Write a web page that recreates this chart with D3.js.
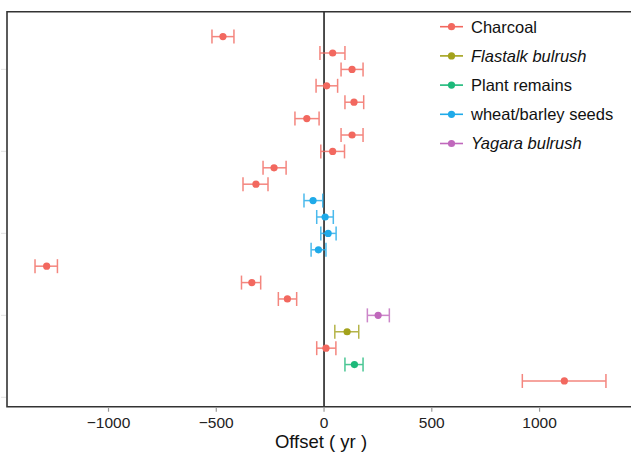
<!DOCTYPE html>
<head>
    <meta charset="utf-8">
    <script src="https://d3js.org/d3.v7.min.js"></script>
    <style>
        body { margin:0; background:#fff; }
        svg { display:block; font-family: Arial, "Liberation Sans", sans-serif; }
    </style>
</head>

<body>
<div id="chart"></div>
<script>

    // ******************** Data ************************
    // one entry per row, listed from top to bottom
    var material = ["Charcoal", "Charcoal", "Charcoal", "Charcoal", "Charcoal", "Charcoal",
        "Charcoal", "Charcoal", "Charcoal", "Charcoal",
        "wheat/barley seeds", "wheat/barley seeds", "wheat/barley seeds", "wheat/barley seeds",
        "Charcoal", "Charcoal", "Charcoal",
        "Yagara bulrush", "Flastalk bulrush", "Charcoal", "Plant remains", "Charcoal"];
    var offset = [-469, 40, 130, 12, 139, -80, 130, 40, -232, -316,
        -51, 5, 19, -26,
        -1287, -335, -170,
        251, 107, 9, 141, 1115];
    var lower = [-520, -19, 79, -37, 97, -135, 79, -15, -283, -376,
        -93, -34, -15, -60,
        -1341, -383, -212,
        201, 50, -34, 97, 920];
    var upper = [-418, 97, 181, 63, 184, -23, 181, 95, -176, -260,
        -6, 43, 56, 9,
        -1237, -294, -127,
        303, 161, 55, 181, 1308];

    var categories = ["Charcoal", "Flastalk bulrush", "Plant remains", "wheat/barley seeds", "Yagara bulrush"];
    var italicCats = ["Flastalk bulrush", "Yagara bulrush"];
    var catColors = ["#F2685F", "#A3A21C", "#1DB97A", "#1FAAE9", "#C068BC"];
    var xTicks = [-1000, -500, 0, 500, 1000];
    var yTicks = [0, 5, 10, 15, 20];

    // ******************** Layout ************************
    // (window.top is read-only, so the panel edges get their own names)
    var width = 631, height = 455;
    var pLeft = 7, pTop = 11.7, pBottom = 406.7, pRight = 640;

    var x = d3.scaleLinear().domain([-1471, 1466]).range([pLeft, pRight]);
    var y = d3.scaleLinear().domain([-0.57, 23.52]).range([pBottom, pTop]);
    var color = d3.scaleOrdinal().domain(categories).range(catColors);

    var rows = offset.map(function (d, i) {
        return {pos: offset.length - i, val: d, lo: lower[i], hi: upper[i], cat: material[i]};
    });

    var svg = d3.select("#chart").append("svg")
        .attr("width", width)
        .attr("height", height);

    // Zero line
    svg.append("line")
        .attr("x1", x(0)).attr("x2", x(0))
        .attr("y1", pTop).attr("y2", pBottom)
        .attr("stroke", "#222")
        .attr("stroke-width", 1.6);

    // Error bars
    var gErr = svg.append("g").attr("stroke-width", 1.5).attr("opacity", 0.8);
    rows.forEach(function (d) {
        var g = gErr.append("g").attr("stroke", color(d.cat));
        g.append("line")
            .attr("x1", x(d.lo)).attr("x2", x(d.hi))
            .attr("y1", y(d.pos)).attr("y2", y(d.pos));
        [d.lo, d.hi].forEach(function (v) {
            g.append("line")
                .attr("x1", x(v)).attr("x2", x(v))
                .attr("y1", y(d.pos) - 7).attr("y2", y(d.pos) + 7);
        });
    });

    // Points
    svg.append("g").selectAll("circle")
        .data(rows)
        .enter()
        .append("circle")
        .attr("cx", function (d) { return x(d.val); })
        .attr("cy", function (d) { return y(d.pos); })
        .attr("r", 3.6)
        .attr("fill", function (d) { return color(d.cat); });

    // Panel border (right side runs off the picture)
    svg.append("path")
        .attr("d", "M" + pRight + "," + pTop + "H" + pLeft + "V" + pBottom + "H" + pRight)
        .attr("fill", "none")
        .attr("stroke", "#333")
        .attr("stroke-width", 1.6);

    // x axis ticks + labels
    var gx = svg.append("g");
    gx.selectAll("line")
        .data(xTicks)
        .enter()
        .append("line")
        .attr("x1", function (d) { return x(d); })
        .attr("x2", function (d) { return x(d); })
        .attr("y1", pBottom + 1)
        .attr("y2", pBottom + 5)
        .attr("stroke", "#999")
        .attr("stroke-width", 1.2);
    gx.selectAll("text")
        .data(xTicks)
        .enter()
        .append("text")
        .attr("x", function (d) { return x(d); })
        .attr("y", 428)
        .attr("text-anchor", "middle")
        .attr("font-size", "15.5px")
        .attr("fill", "#222")
        .text(function (d) { return d < 0 ? "\u2212" + Math.abs(d) : d; });

    // y axis ticks (labels are blank in the figure)
    svg.append("g").selectAll("line")
        .data(yTicks)
        .enter()
        .append("line")
        .attr("x1", 1)
        .attr("x2", pLeft - 1)
        .attr("y1", function (d) { return y(d); })
        .attr("y2", function (d) { return y(d); })
        .attr("stroke", "#e6e6e6")
        .attr("stroke-width", 1.2);

    // Axis title
    svg.append("text")
        .attr("x", 321)
        .attr("y", 448)
        .attr("text-anchor", "middle")
        .attr("font-size", "18.5px")
        .attr("fill", "#111")
        .text("Offset ( yr )");

    // Legend
    var legend = svg.append("g").selectAll("g")
        .data(categories)
        .enter()
        .append("g")
        .attr("transform", function (d, i) { return "translate(440," + (26.7 + i * 29.2) + ")"; });
    legend.append("line")
        .attr("x1", 0).attr("x2", 23)
        .attr("stroke", function (d) { return color(d); })
        .attr("stroke-width", 1.6);
    legend.append("circle")
        .attr("cx", 11.5)
        .attr("r", 3.6)
        .attr("fill", function (d) { return color(d); });
    legend.append("text")
        .attr("x", 31)
        .attr("dy", "0.36em")
        .attr("font-size", "16.5px")
        .attr("font-style", function (d) { return italicCats.indexOf(d) >= 0 ? "italic" : "normal"; })
        .attr("fill", "#111")
        .text(function (d) { return d; });

</script>
</body>
